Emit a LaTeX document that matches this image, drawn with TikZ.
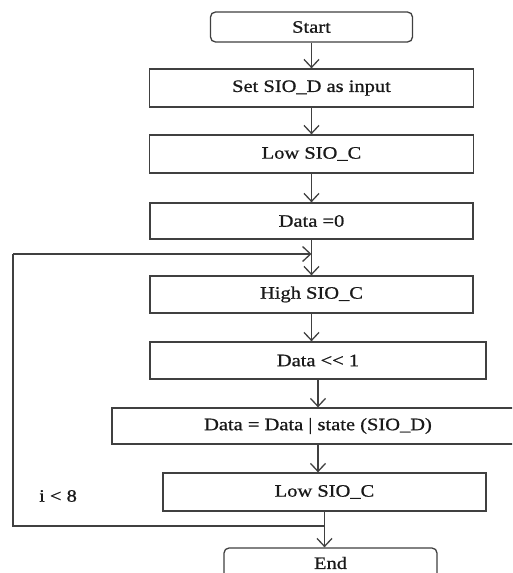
\documentclass[tikz,border=0pt]{standalone}
\usepackage{fontspec}
\setmainfont{Liberation Serif}[FakeStretch=1.17,FakeBold=0.8]
\usetikzlibrary{arrows.meta}
\begin{document}
\begin{tikzpicture}[x=1pt,y=-1pt,
  box/.style={draw=black!75,line width=1.3pt,rectangle,inner sep=0pt,
    font=\fontsize{17.5}{20}\selectfont,text=black!90},
  term/.style={box,rounded corners=5pt},
  arr/.style={draw=black!75,line width=1.3pt,-{Straight Barb[length=8pt,width=15pt,line width=1.3pt]}},
  ln/.style={draw=black!75,line width=1.3pt}]
\clip (0,0) rectangle (512,573);
\fill[white] (0,0) rectangle (512,573);
\node[term,minimum width=202pt,minimum height=30pt] (start) at (311.5,27) {Start};
\node[box,minimum width=324pt,minimum height=38pt] (set) at (311.5,88) {Set SIO\_D as input};
\node[box,minimum width=324pt,minimum height=38pt] (low1) at (311.5,154) {Low SIO\_C};
\node[box,minimum width=323pt,minimum height=36pt] (data0) at (311.5,221) {Data =0};
\node[box,minimum width=323pt,minimum height=37pt] (high) at (311.5,294.5) {High SIO\_C};
\node[box,minimum width=336pt,minimum height=37pt] (shift) at (318,360.5) {Data <\kern0pt< 1};
\node[box,minimum width=412pt,minimum height=36pt] (dor) at (318,426) {Data = Data | state (SIO\_D)};
\node[box,minimum width=323pt,minimum height=38pt] (low2) at (324.5,492) {Low SIO\_C};
\node[term,minimum width=213pt,minimum height=30pt] (end) at (330.5,563) {End};
\node[font=\fontsize{17.5}{20}\selectfont,text=black!90] (cond) at (58,496) {i < 8};
\draw[arr] (start.south) -- (start.south |- set.north);
\draw[arr] (set.south) -- (set.south |- low1.north);
\draw[arr] (low1.south) -- (low1.south |- data0.north);
\draw[arr] (data0.south) -- (data0.south |- high.north);
\draw[arr] (high.south) -- (high.south |- shift.north);
\draw[arr] (shift.south) -- (shift.south |- dor.north);
\draw[arr] (dor.south) -- (dor.south |- low2.north);
\draw[arr] (low2.south) -- (low2.south |- end.north);
\coordinate (lp) at (324.5,526);
\coordinate (lc) at (13,526);
\coordinate (lt) at (13,254);
\coordinate (lj) at (311.5,254);
\draw[ln] (lp) -- (lc) -- (lt);
\draw[arr] (lt) -- (lj);
\end{tikzpicture}
\end{document}
